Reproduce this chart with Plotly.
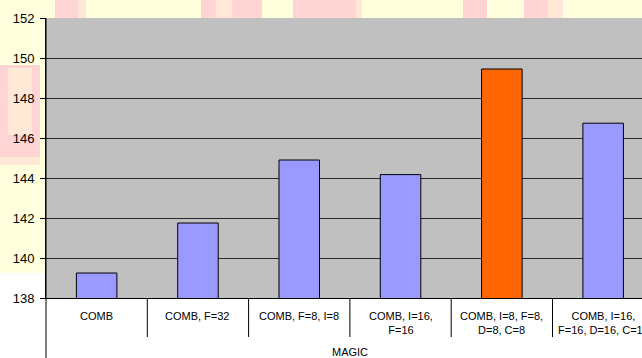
import plotly.graph_objects as go

# Chart data
group_label = "MAGIC"
categories = [
    "COMB",
    "COMB, F=32",
    "COMB, F=8, I=8",
    "COMB, I=16,<br>F=16",
    "COMB, I=8, F=8,<br>D=8, C=8",
    "COMB, I=16,<br>F=16, D=16, C=16",
]
values = [139.25, 141.75, 144.9, 144.17, 149.45, 146.74]
highlight_index = 4
y_tick_values = [138, 140, 142, 144, 146, 148, 150, 152]

# Styling
W, H = 642, 358
M_L, M_R, M_T, M_B = 46, 0, 18, 60
FONT = "Liberation Sans, Arial, sans-serif"
BAR_BLUE = "#9999FF"
BAR_ORANGE = "#FF6600"
PLOT_BG = "#C0C0C0"
PAGE_YELLOW = "#FFFFDD"
PINK = "#FFD4D4"
PEACH = "#FFE8D6"

plot_w = W - M_L - M_R
plot_h = H - M_T - M_B
cat_px = 101.3  # pixel width of one category slot


def px_x(p):
    """Pixel x -> paper x."""
    return (p - M_L) / plot_w


def px_y(p):
    """Pixel y -> paper y."""
    return (H - M_B - p) / plot_h


colors = [BAR_ORANGE if i == highlight_index else BAR_BLUE for i in range(len(values))]
x_idx = list(range(len(categories)))

fig = go.Figure(
    go.Bar(
        x=x_idx,
        y=values,
        width=0.4,
        marker=dict(color=colors, line=dict(color="#000000", width=1)),
        hoverinfo="skip",
    )
)

shapes = []

# Pale page tint with faint pink blotches around the chart
tint_rects = [
    # (x0, y0, x1, y1, color) in pixels
    (0, 0, W, M_T, PAGE_YELLOW),
    (0, 0, M_L, 273, PAGE_YELLOW),
    (55, 0, 78, M_T, PINK),
    (78, 0, 86, M_T, PEACH),
    (201, 0, 216, M_T, PINK),
    (216, 0, 232, M_T, PEACH),
    (232, 0, 262, M_T, PINK),
    (293, 0, 356, M_T, PINK),
    (356, 0, 362, M_T, PEACH),
    (463, 0, 487, M_T, PINK),
    (524, 0, 548, M_T, PINK),
    (548, 0, 563, M_T, PEACH),
    (0, 65, 40, 157, PINK),
    (8, 68, 32, 135, PEACH),
    (0, 157, 40, 165, PEACH),
]
for x0, y0, x1, y1, c in tint_rects:
    shapes.append(dict(
        type="rect", xref="paper", yref="paper",
        x0=px_x(x0), x1=px_x(x1), y0=px_y(y1), y1=px_y(y0),
        fillcolor=c, line=dict(width=0), layer="below",
    ))

# Left axis line continues down through the category label area
shapes.append(dict(
    type="line", xref="paper", yref="paper",
    x0=0, x1=0, y0=px_y(H + 2), y1=1,
    line=dict(color="#000000", width=1),
))

# Category separators below the axis
sep_bottom = px_y(337)
for i in range(len(categories) - 1):
    shapes.append(dict(
        type="line", xref="x", yref="paper",
        x0=i + 0.5, x1=i + 0.5, y0=sep_bottom, y1=0,
        line=dict(color="#000000", width=1),
    ))

annotations = []
label_top = px_y(307.5)
for i, label in enumerate(categories):
    annotations.append(dict(
        x=i, y=label_top, xref="x", yref="paper",
        text=label, showarrow=False, xanchor="center", yanchor="top",
        align="center", font=dict(family=FONT, size=11, color="#000000"),
    ))

annotations.append(dict(
    x=(len(categories) - 1) / 2, y=px_y(343.5), xref="x", yref="paper",
    text=group_label, showarrow=False, xanchor="center", yanchor="top",
    font=dict(family=FONT, size=11, color="#000000"),
))

fig.update_layout(
    width=W, height=H,
    margin=dict(l=M_L, r=M_R, t=M_T, b=M_B, pad=0, autoexpand=False),
    paper_bgcolor="#FFFFFF",
    plot_bgcolor=PLOT_BG,
    showlegend=False,
    bargap=0.6,
    shapes=shapes,
    annotations=annotations,
    font=dict(family=FONT, color="#000000"),
)

fig.update_xaxes(
    range=[-0.5, -0.5 + plot_w / cat_px],
    showticklabels=False,
    showgrid=False,
    zeroline=False,
    showline=True, linecolor="#000000", linewidth=1,
    ticks="",
    fixedrange=True,
)

fig.update_yaxes(
    range=[138, 152],
    tickvals=y_tick_values,
    ticktext=[str(v) for v in y_tick_values],
    tickfont=dict(family=FONT, size=13, color="#000000"),
    ticks="outside", ticklen=5, tickcolor="#000000", tickwidth=1,
    ticklabelstandoff=3,
    showgrid=True, gridcolor="#2A2A2A", gridwidth=1,
    zeroline=False,
    showline=True, linecolor="#000000", linewidth=1,
    fixedrange=True,
)

fig.write_html("out.html", config={"displayModeBar": False})
